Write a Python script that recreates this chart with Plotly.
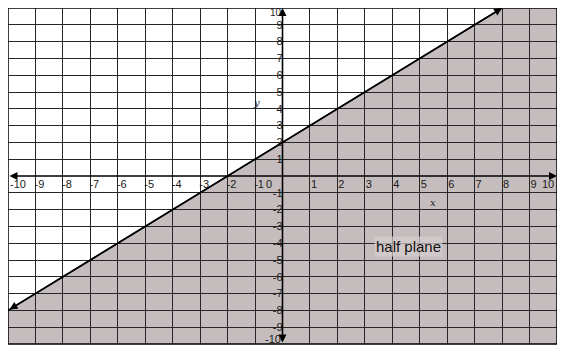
import plotly.graph_objects as go

# boundary line y = x + 2 (drawn from end to end with arrows)
line_x = [-10, 8]
line_y = [-8, 10]

x_range = [-10, 10]
y_range = [-10, 10]

x_ticks = [-10, -9, -8, -7, -6, -5, -4, -3, -2, -1, 1, 2, 3, 4, 5, 6, 7, 8, 9, 10]
y_ticks = [-10, -9, -8, -7, -6, -5, -4, -3, -2, -1, 1, 2, 3, 4, 5, 6, 7, 8, 9, 10]
x_labels = [str(v) for v in x_ticks]
y_labels = [str(v) for v in y_ticks]

region_label = "half plane"
region_pos = (4.6, -4.2)

fill_col = "rgb(197,189,189)"
grid_col = "#262626"
txt_col = "#1a1a1a"
tick_font = dict(size=11, color=txt_col)

fig = go.Figure()

# the boundary line
fig.add_trace(go.Scatter(x=line_x, y=line_y, mode="lines",
                         line=dict(color="black", width=1.6),
                         hoverinfo="skip", showlegend=False))

# shaded half plane below the line (under the grid)
poly = [(x_range[0], y_range[0]), (line_x[0], line_y[0]), (line_x[1], line_y[1]),
        (x_range[1], y_range[1]), (x_range[1], y_range[0])]
path = "M " + " L ".join("%g,%g" % p for p in poly) + " Z"
fig.add_shape(type="path", path=path, xref="x", yref="y", layer="below",
              fillcolor=fill_col, line=dict(width=0))

# border
fig.add_shape(type="rect", xref="paper", yref="paper", x0=0, y0=0, x1=1, y1=1,
              line=dict(color="black", width=1.5), layer="above")

# arrows: boundary line and axes
arrows = [
    (line_x[1], line_y[1], line_x[0], line_y[0]),
    (x_range[1], 0, x_range[0], 0),
    (0, y_range[1], 0, y_range[0]),
]
for x1, y1, x0, y0 in arrows:
    fig.add_annotation(x=x1, y=y1, ax=x0, ay=y0, xref="x", yref="y",
                       axref="x", ayref="y", text="", showarrow=True,
                       arrowhead=2, arrowsize=1, arrowwidth=1.6,
                       arrowside="end+start", arrowcolor="black")

# end labels would be cut at the figure edge, so they are pulled inside
fig.add_annotation(x=x_ticks[0], y=0, text=x_labels[0], showarrow=False,
                   xanchor="left", yanchor="top", font=tick_font)
fig.add_annotation(x=x_ticks[-1], y=0, text=x_labels[-1], showarrow=False,
                   xanchor="right", yanchor="top", xshift=-1, font=tick_font)
fig.add_annotation(x=0, y=y_ticks[-1], text=y_labels[-1], showarrow=False,
                   xanchor="right", yanchor="top", yshift=2, borderpad=0,
                   font=dict(size=10, color=txt_col))
fig.add_annotation(x=0, y=y_ticks[0], text=y_labels[0], showarrow=False,
                   xanchor="right", yanchor="bottom", yshift=-3, font=tick_font)

fig.add_annotation(x=-0.3, y=0, text="0", showarrow=False, xanchor="right",
                   yanchor="top", font=tick_font)
fig.add_annotation(x=5.5, y=-1.6, text="x", showarrow=False,
                   font=dict(size=10, color=txt_col, family="DejaVu Serif",
                             style="italic"))
fig.add_annotation(x=-0.95, y=4.4, text="y", showarrow=False,
                   font=dict(size=10, color=txt_col, family="DejaVu Serif",
                             style="italic"))
fig.add_annotation(x=region_pos[0], y=region_pos[1], text=region_label,
                   showarrow=False, bgcolor="rgba(214,207,207,0.7)",
                   font=dict(size=15, color="#111"))

fig.update_xaxes(range=x_range, tickvals=x_ticks[1:-1], ticktext=x_labels[1:-1],
                 anchor="free", position=0.5, showgrid=True,
                 gridcolor=grid_col, gridwidth=1.2, zeroline=False,
                 showline=False, ticks="", ticklabelshift=4,
                 ticklabelstandoff=0, automargin=False,
                 tickfont=tick_font)
fig.update_yaxes(range=y_range, tickvals=y_ticks[1:-1], ticktext=y_labels[1:-1],
                 anchor="free", position=0.5, side="left", showgrid=True,
                 gridcolor=grid_col, gridwidth=1.2, zeroline=False,
                 showline=False, ticks="", ticklabelstandoff=0,
                 automargin=False, tickfont=tick_font)

# the html page puts an 8px body margin around the figure
fig.update_layout(
    width=557, height=340,
    margin=dict(l=0, r=8, t=0, b=4, autoexpand=False),
    paper_bgcolor="white", plot_bgcolor="white",
    font=dict(family="Liberation Sans", color=txt_col),
    showlegend=False,
)

fig.write_html("out.html")
